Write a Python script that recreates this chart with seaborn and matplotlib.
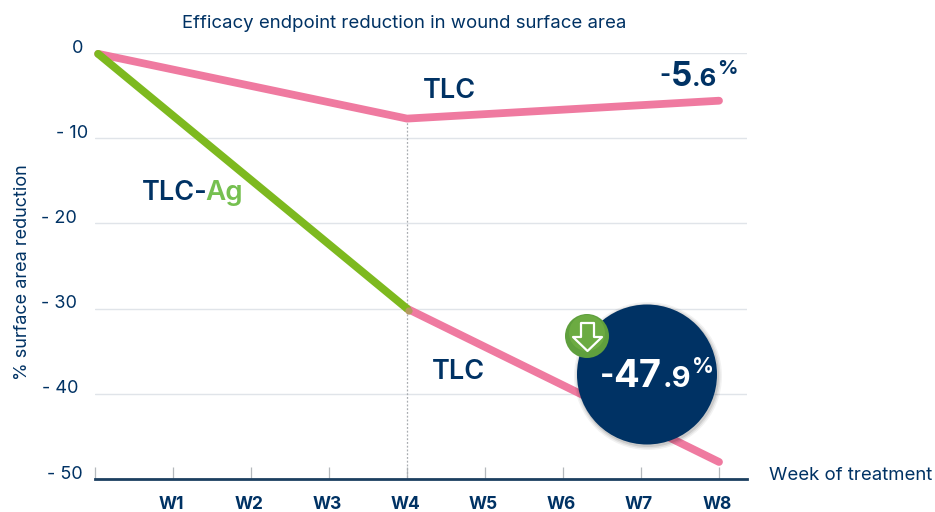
"""Efficacy endpoint: reduction in wound surface area, TLC vs TLC-Ag."""
import matplotlib
matplotlib.use('Agg')
import matplotlib.pyplot as plt
from matplotlib.patches import Circle, Polygon
from matplotlib.transforms import ScaledTranslation
import pandas as pd
import seaborn as sns

weeks_upper = [0.04, 4, 8]
tlc_upper = [-0.1, -7.7, -5.6]
weeks_ag = [0.04, 4]
tlc_ag = [-0.1, -30]
weeks_lower = [4, 8]
tlc_lower = [-30, -48]

week_ticks = [0, 1, 2, 3, 4, 5, 6, 7, 8]
week_labels = ['', 'W1', 'W2', 'W3', 'W4', 'W5', 'W6', 'W7', 'W8']
y_ticks = [0, -10, -20, -30, -40, -50]
y_labels = ['0', '- 10', '- 20', '- 30', '- 40', '- 50']

NAVY = '#003264'
PINK = '#ef7aa0'
GREEN = '#7db91f'
W, H = 935, 512

sns.set_theme(style='white')
plt.rcParams['font.family'] = ['Inter', 'DejaVu Sans']

fig = plt.figure(figsize=(W / 100, H / 100), dpi=100)
ax = fig.add_axes([95 / W, 1 - 479 / H, (747 - 95) / W, (479 - 53) / H])

df = pd.concat([
    pd.DataFrame({'week': weeks_upper, 'pct': tlc_upper, 'arm': 'TLC upper'}),
    pd.DataFrame({'week': weeks_lower, 'pct': tlc_lower, 'arm': 'TLC lower'}),
    pd.DataFrame({'week': weeks_ag, 'pct': tlc_ag, 'arm': 'TLC-Ag'}),
])
sns.lineplot(data=df, x='week', y='pct', hue='arm', sort=False, legend=False, ax=ax,
             palette={'TLC upper': PINK, 'TLC lower': PINK, 'TLC-Ag': GREEN},
             lw=5.6, solid_capstyle='round', zorder=4, clip_on=False)

ax.set_xlim(0, (747 - 95) / 78)
ax.set_ylim(-50, 0)
ax.set_xlabel(''); ax.set_ylabel('')
sns.despine(ax=ax, left=True, top=True, right=True)
ax.spines['bottom'].set_color('#1c3f60')
ax.spines['bottom'].set_linewidth(2)
ax.spines['bottom'].set_zorder(6)

ax.set_yticks(y_ticks, y_labels, color=NAVY, fontsize=13)
ax.set_xticks(week_ticks, week_labels, color=NAVY, fontsize=12.5, fontweight='bold')
ax.tick_params(axis='y', length=0, pad=8)
ax.tick_params(axis='x', direction='in', length=8.5, width=0.9, color='#b5b9bd', pad=12,
               bottom=True)
# the y labels are not lined up on the right in the original, nudge each (px)
nudge = [-1, 4, -7, -7, -6, -1]
for t, dx in zip(ax.get_yticklabels(), nudge):
    t.set_transform(t.get_transform() + ScaledTranslation(dx / 100, 5 / 72, fig.dpi_scale_trans))
# week labels sit a little left of their ticks
for t in ax.get_xticklabels():
    t.set_transform(t.get_transform() + ScaledTranslation(-2 / 100, 0, fig.dpi_scale_trans))
ax.grid(axis='y', color='#e0e4e9', lw=1)
ax.set_axisbelow(True)

# dotted guide under W4
ax.plot([4, 4], [tlc_upper[1], -50], color='#a9adb1', lw=0.9, ls=(0, (1.5, 1.5)), zorder=2)


def label(px, py, s, size, color=NAVY, weight='normal', ha='left', va='center', **kw):
    fig.text(px / W, 1 - py / H, s, fontsize=size, color=color, fontweight=weight, ha=ha, va=va, **kw)


# callout circle and badge, in pixels
def disc(cx, cy, r, **kw):
    p = Circle((cx, H - cy), r, transform=None, **kw)
    fig.add_artist(p)
    return p


disc(409, 311, 3.6, color='#b39a5f', lw=0)  # green to pink blend at W4

for grow, alpha in [(4, 0.05), (2.5, 0.07), (1, 0.1)]:
    disc(648, 376, 70 + grow, color='black', alpha=alpha, lw=0)
disc(647, 374.5, 70, color=NAVY, lw=0)
disc(587, 336, 22, color='#5f9f3d', lw=0)
disc(587, 333, 18, color='#6cab42', lw=0)
arrow = [(581, 323), (594, 323), (594, 337), (602, 337), (587.5, 351), (573, 337), (581, 337)]
fig.add_artist(Polygon([(x, H - y) for x, y in arrow], closed=True, transform=None,
                       fill=False, edgecolor='white', lw=1.6, joinstyle='round'))

label(404, 23, 'Efficacy endpoint reduction in wound surface area', 13.4, ha='center')
label(23, 272, '% surface area reduction', 13, rotation=90, ha='center')
label(769, 475, 'Week of treatment', 13.4)

label(423, 91, 'TLC', 19.5, weight='semibold')
label(432, 372, 'TLC', 19.5, weight='semibold')
label(142, 193, 'TLC-', 19.5, weight='semibold')
label(205, 193, 'Ag', 20, color='#76c050', weight='semibold')

label(659, 82, '-', 17, weight='bold', va='baseline')
label(671, 86, '5', 24, weight='bold', va='baseline')
label(692, 86, '.6', 18.5, weight='bold', va='baseline')
label(717, 74, '%', 14.5, weight='bold', va='baseline')

label(600, 384, '-', 22, color='white', weight='bold', va='baseline')
label(613, 387, '47', 27.5, color='white', weight='bold', va='baseline')
label(663, 387, '.9', 21, color='white', weight='bold', va='baseline')
label(692, 373, '%', 15.5, color='white', weight='bold', va='baseline')

fig.savefig('out.png', dpi=100)
